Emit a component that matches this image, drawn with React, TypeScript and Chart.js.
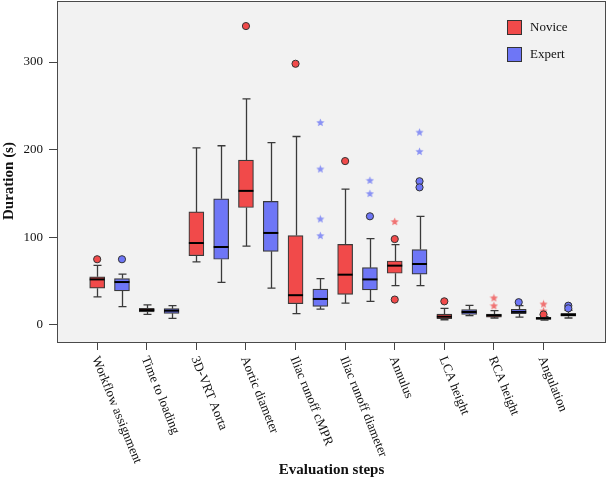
import React, { useEffect, useRef } from "react";
import { Chart, registerables } from "chart.js";

Chart.register(...registerables);

const FONT = "'Liberation Serif', 'Times New Roman', serif";

const categories = [
  "Workflow assignment",
  "Time to loading",
  "3D-VRT Aorta",
  "Aortic diameter",
  "Iliac runoff cMPR",
  "Iliac runoff diameter",
  "Annulus",
  "LCA height",
  "RCA height",
  "Angulation",
];

const yTicks = [0, 100, 200, 300];

const noviceMin = [32, 12, 72, 90, 13, 25, 45, 6, 8, 5.5];
const noviceQ1 = [42, 15, 79, 134, 24.3, 35, 59, 7.2, 9, 6.5];
const noviceMed = [52, 17, 93.5, 153, 34, 57.4, 67.7, 9.5, 11, 7.6];
const noviceQ3 = [55, 19, 129, 188, 102, 92, 73, 12.5, 12.5, 8.8];
const noviceMax = [68, 23, 202, 258, 215, 155, 91.6, 19, 16.3, 9.6];
const noviceOutliers = [[75], [], [], [341], [298], [187], [98, 29], [27], [], [12]];
const noviceExtremes = [[], [], [], [], [], [], [118], [], [31, 22], [24, 16]];

const expertMin = [21, 7.6, 48.7, 42, 18, 27, 45, 10.6, 9, 8];
const expertQ1 = [39, 13.3, 75, 84, 21.3, 40, 58, 12.2, 13, 10];
const expertMed = [49, 16.3, 89, 105, 29.7, 52, 69.6, 14.8, 15, 11.4];
const expertQ3 = [53, 18.6, 144, 141, 41, 65.4, 86, 17.5, 18, 13.3];
const expertMax = [58, 22, 204.5, 208, 53, 98.5, 124, 22.4, 22, 16.8];
const expertOutliers = [[75], [], [], [], [], [124], [164, 157], [], [26], [22, 19]];
const expertExtremes = [[], [], [], [], [231, 178, 121, 102], [165, 150], [220, 198], [], [], []];

const RED = "#F14A4A";
const BLUE = "#6E76F6";
const RED_STAR = "#F07272";
const BLUE_STAR = "#8A92F4";
const EXPERT_OFFSET = 0.5;

function makeStar(color: string) {
  const c = document.createElement("canvas");
  c.width = 9;
  c.height = 9;
  const g = c.getContext("2d")!;
  g.beginPath();
  for (let k = 0; k < 10; k++) {
    const r = k % 2 === 0 ? 4.3 : 1.9;
    const a = -Math.PI / 2 + (k * Math.PI) / 5;
    const px = 4.5 + r * Math.cos(a);
    const py = 4.8 + r * Math.sin(a);
    if (k === 0) g.moveTo(px, py);
    else g.lineTo(px, py);
  }
  g.closePath();
  g.fillStyle = color;
  g.fill();
  return c;
}

function flatten(arr: number[][], offset: number) {
  const out: { x: number; y: number }[] = [];
  arr.forEach((vals, i) => vals.forEach((v) => out.push({ x: i + offset, y: v })));
  return out;
}

export default function App() {
  const ref = useRef<HTMLCanvasElement | null>(null);

  useEffect(() => {
    document.body.style.margin = "0";
    const canvas = ref.current!;
    const groups = [
      { off: 0, min: noviceMin, q1: noviceQ1, med: noviceMed, q3: noviceQ3, max: noviceMax },
      { off: EXPERT_OFFSET, min: expertMin, q1: expertQ1, med: expertMed, q3: expertQ3, max: expertMax },
    ];

    const boxPlugin = {
      id: "boxExtras",
      beforeDraw(chart: any) {
        const { ctx, chartArea: a } = chart;
        ctx.save();
        ctx.fillStyle = "#ffffff";
        ctx.fillRect(0, 0, chart.width, chart.height);
        ctx.fillStyle = "#F2F2F2";
        ctx.fillRect(a.left, a.top, a.right - a.left, a.bottom - a.top);
        ctx.restore();
      },
      beforeDatasetsDraw(chart: any) {
        const { ctx } = chart;
        const xs = chart.scales.x;
        const ys = chart.scales.y;
        ctx.save();
        ctx.strokeStyle = "#3a3a3a";
        ctx.lineWidth = 1.3;
        groups.forEach((g) => {
          categories.forEach((_, i) => {
            const px = Math.round(xs.getPixelForValue(i + g.off)) + 0.5;
            const yMin = ys.getPixelForValue(g.min[i]);
            const yMax = ys.getPixelForValue(g.max[i]);
            const yQ1 = ys.getPixelForValue(g.q1[i]);
            const yQ3 = ys.getPixelForValue(g.q3[i]);
            ctx.beginPath();
            ctx.moveTo(px, yMin);
            ctx.lineTo(px, yQ1);
            ctx.moveTo(px, yQ3);
            ctx.lineTo(px, yMax);
            ctx.moveTo(px - 4, yMin);
            ctx.lineTo(px + 4, yMin);
            ctx.moveTo(px - 4, yMax);
            ctx.lineTo(px + 4, yMax);
            ctx.stroke();
          });
        });
        ctx.restore();
      },
      afterDatasetsDraw(chart: any) {
        const { ctx } = chart;
        const xs = chart.scales.x;
        const ys = chart.scales.y;
        ctx.save();
        ctx.strokeStyle = "#000000";
        ctx.lineWidth = 2;
        groups.forEach((g) => {
          categories.forEach((_, i) => {
            const px = xs.getPixelForValue(i + g.off);
            const ym = ys.getPixelForValue(g.med[i]);
            ctx.beginPath();
            ctx.moveTo(px - 7.5, ym);
            ctx.lineTo(px + 7.5, ym);
            ctx.stroke();
          });
        });
        ctx.restore();
      },
      afterDraw(chart: any) {
        const { ctx, chartArea: a } = chart;
        const xs = chart.scales.x;
        ctx.save();
        // plot border
        ctx.strokeStyle = "#4a4a4a";
        ctx.lineWidth = 1;
        ctx.strokeRect(Math.round(a.left) + 0.5, Math.round(a.top) + 0.5, Math.round(a.right - a.left) - 1, Math.round(a.bottom - a.top));
        // x labels
        ctx.fillStyle = "#111";
        ctx.font = `13px ${FONT}`;
        ctx.textAlign = "left";
        ctx.textBaseline = "middle";
        categories.forEach((c, i) => {
          const px = xs.getPixelForValue(i);
          ctx.save();
          ctx.translate(px - 2, a.bottom + 15);
          ctx.rotate((68 * Math.PI) / 180);
          ctx.fillText(c, 0, 0);
          ctx.restore();
        });
        // axis titles
        ctx.font = `bold 15px ${FONT}`;
        ctx.textAlign = "center";
        ctx.textBaseline = "middle";
        ctx.fillText("Evaluation steps", (a.left + a.right) / 2, 470);
        ctx.save();
        ctx.translate(9, 181);
        ctx.rotate(-Math.PI / 2);
        ctx.fillText("Duration (s)", 0, 0);
        ctx.restore();
        // legend
        const items = [
          { label: chart.data.datasets[0].label, color: RED, y: 20 },
          { label: chart.data.datasets[1].label, color: BLUE, y: 47 },
        ];
        ctx.font = `13px ${FONT}`;
        ctx.textAlign = "left";
        items.forEach((it) => {
          ctx.fillStyle = it.color;
          ctx.fillRect(507, it.y, 15, 15);
          ctx.strokeStyle = "#333";
          ctx.lineWidth = 1;
          ctx.strokeRect(507.5, it.y + 0.5, 14, 14);
          ctx.fillStyle = "#111";
          ctx.fillText(it.label, 530, it.y + 7.5);
        });
        ctx.restore();
      },
    };

    const chart = new Chart(canvas, {
      type: "bar",
      data: {
        datasets: [
          {
            type: "bar",
            label: "Novice",
            data: categories.map((_, i) => ({ x: i, y: [noviceQ1[i], noviceQ3[i]] })) as any,
            backgroundColor: RED,
            borderColor: "#3a3a3a",
            borderWidth: 1.2,
            borderSkipped: false,
            barThickness: 15,
            grouped: false,
          } as any,
          {
            type: "bar",
            label: "Expert",
            data: categories.map((_, i) => ({ x: i + EXPERT_OFFSET, y: [expertQ1[i], expertQ3[i]] })) as any,
            backgroundColor: BLUE,
            borderColor: "#3a3a3a",
            borderWidth: 1.2,
            borderSkipped: false,
            barThickness: 15,
            grouped: false,
          } as any,
          {
            type: "scatter",
            label: "Novice outliers",
            data: flatten(noviceOutliers, 0),
            backgroundColor: RED,
            borderColor: "#333",
            borderWidth: 1,
            pointRadius: 3.6,
          } as any,
          {
            type: "scatter",
            label: "Expert outliers",
            data: flatten(expertOutliers, EXPERT_OFFSET),
            backgroundColor: BLUE,
            borderColor: "#333",
            borderWidth: 1,
            pointRadius: 3.6,
          } as any,
          {
            type: "scatter",
            label: "Novice extremes",
            data: flatten(noviceExtremes, 0),
            pointStyle: makeStar(RED_STAR),
            pointRadius: 4,
          } as any,
          {
            type: "scatter",
            label: "Expert extremes",
            data: flatten(expertExtremes, EXPERT_OFFSET),
            pointStyle: makeStar(BLUE_STAR),
            pointRadius: 4,
          } as any,
        ],
      },
      options: {
        responsive: false,
        animation: false,
        layout: { autoPadding: false, padding: { top: 1, right: 3, left: 0, bottom: 0 } },
        plugins: { legend: { display: false }, tooltip: { enabled: false } },
        scales: {
          x: {
            type: "linear",
            min: -0.81,
            max: 10.26,
            offset: false,
            border: { display: false },
            grid: { display: true, offset: false, drawOnChartArea: false, drawTicks: true, tickLength: 8, color: "#444" },
            ticks: { display: false },
            afterBuildTicks: (s: any) => {
              s.ticks = categories.map((_, i) => ({ value: i }));
            },
            afterFit: (s: any) => {
              s.height = 142;
              s.paddingLeft = 0;
              s.paddingRight = 0;
            },
          },
          y: {
            type: "linear",
            min: -19.4,
            max: 369.6,
            border: { display: false },
            grid: { display: true, offset: false, drawOnChartArea: false, drawTicks: true, tickLength: 8, color: "#444" },
            ticks: { font: { family: FONT, size: 13 }, color: "#111", padding: 6 },
            afterBuildTicks: (s: any) => {
              s.ticks = yTicks.map((v) => ({ value: v }));
            },
            afterFit: (s: any) => {
              s.width = 57;
              s.paddingTop = 0;
              s.paddingBottom = 0;
            },
          },
        },
      } as any,
      plugins: [boxPlugin],
    });

    return () => chart.destroy();
  }, []);

  return <canvas ref={ref} width={609} height={484} style={{ display: "block" }} />;
}
